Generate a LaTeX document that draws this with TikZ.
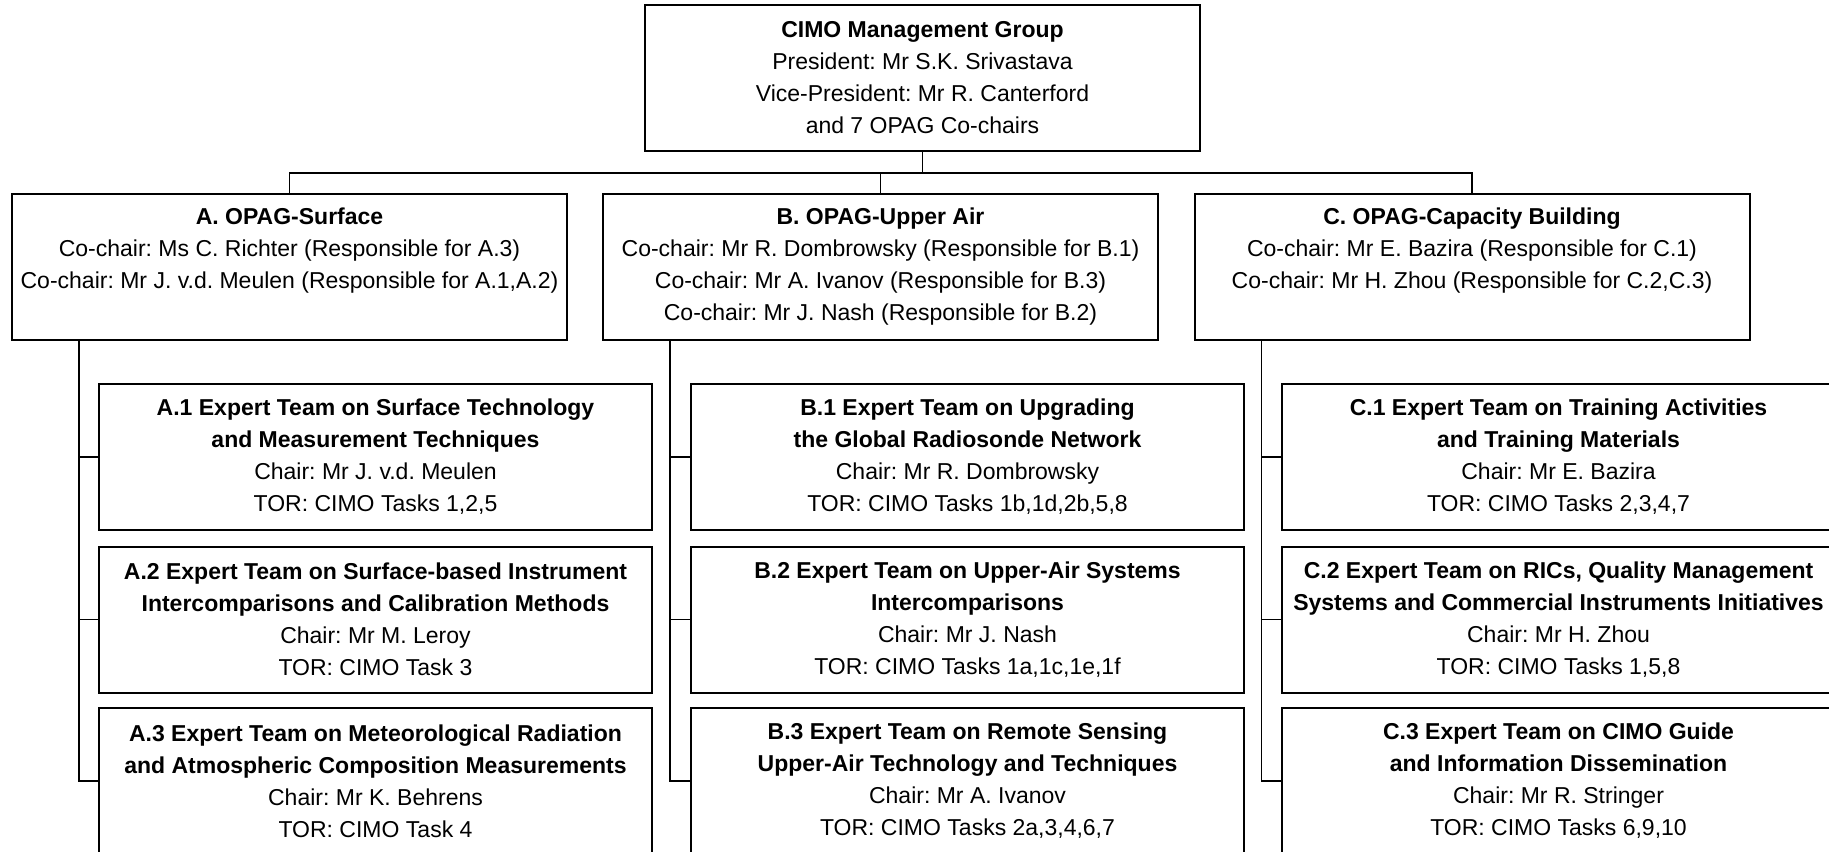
\documentclass[tikz,border=0pt]{standalone}
\usepackage{fontspec}
\setmainfont{Liberation Sans}
\frenchspacing
\usepackage{tikz}

\begin{document}
\begin{tikzpicture}[x=0.5pt,y=-0.5pt]
	\tikzstyle{group}=[rectangle,draw=black,line width=1pt,inner sep=0pt,minimum width=277.5pt,minimum height=73pt,align=center,font=\fontsize{11.5}{16}\selectfont]
	\tikzstyle{team}=[group,minimum width=276.5pt]
	\tikzstyle{link}=[draw=black,line width=0.8pt]
	\useasboundingbox (0,0) rectangle (1829,851);
	\clip (0,0) rectangle (1829,851);
	% management group and the three OPAGs
	\node[group] (mg) at (922.5,78) {\textbf{CIMO Management Group}\\President: Mr S.K. Srivastava\\Vice-President: Mr R. Canterford\\and 7 OPAG Co-chairs};
	\node[group] (A) at (289.5,267) {\textbf{A. OPAG-Surface}\\Co-chair: Ms C. Richter (Responsible for A.3)\\Co-chair: Mr J. v.d. Meulen (Responsible for A.1,A.2)\\\vphantom{(}};
	\node[group] (B) at (880.5,267) {\textbf{B. OPAG-Upper Air}\\Co-chair: Mr R. Dombrowsky (Responsible for B.1)\\Co-chair: Mr A. Ivanov (Responsible for B.3)\\Co-chair: Mr J. Nash (Responsible for B.2)};
	\node[group] (C) at (1472,267) {\textbf{C. OPAG-Capacity Building}\\Co-chair: Mr E. Bazira (Responsible for C.1)\\Co-chair: Mr H. Zhou (Responsible for C.2,C.3)\\\vphantom{(}};
	% expert teams
	\node[team] (A1) at (375.5,457) {\textbf{A.1 Expert Team on Surface Technology}\\\textbf{and Measurement Techniques}\\Chair: Mr J. v.d. Meulen\\TOR: CIMO Tasks 1,2,5};
	\node[team] (A2) at (375.5,619.5) {\textbf{A.2 Expert Team on Surface-based Instrument}\\\textbf{Intercomparisons and Calibration Methods}\\Chair: Mr M. Leroy\\TOR: CIMO Task 3};
	\node[team] (A3) at (375.5,781) {\textbf{A.3 Expert Team on Meteorological Radiation}\\\textbf{and Atmospheric Composition Measurements}\\Chair: Mr K. Behrens\\TOR: CIMO Task 4};
	\node[team] (B1) at (967.5,457) {\textbf{B.1 Expert Team on Upgrading}\\\textbf{the Global Radiosonde Network}\\Chair: Mr R. Dombrowsky\\TOR: CIMO Tasks 1b,1d,2b,5,8};
	\node[team] (B2) at (967.5,619.5) {\textbf{B.2 Expert Team on Upper-Air Systems}\\\textbf{Intercomparisons}\\Chair: Mr J. Nash\\TOR: CIMO Tasks 1a,1c,1e,1f};
	\node[team] (B3) at (967.5,781) {\textbf{B.3 Expert Team on Remote Sensing}\\\textbf{Upper-Air Technology and Techniques}\\Chair: Mr A. Ivanov\\TOR: CIMO Tasks 2a,3,4,6,7};
	\node[team] (C1) at (1558.5,457) {\textbf{C.1 Expert Team on Training Activities}\\\textbf{and Training Materials}\\Chair: Mr E. Bazira\\TOR: CIMO Tasks 2,3,4,7};
	\node[team] (C2) at (1558.5,619.5) {\textbf{C.2 Expert Team on RICs, Quality Management}\\\textbf{Systems and Commercial Instruments Initiatives}\\Chair: Mr H. Zhou\\TOR: CIMO Tasks 1,5,8};
	\node[team] (C3) at (1558.5,781) {\textbf{C.3 Expert Team on CIMO Guide}\\\textbf{and Information Dissemination}\\Chair: Mr R. Stringer\\TOR: CIMO Tasks 6,9,10};
	% connectors
	\coordinate (bar) at (0,173);
	\draw[link] (A.north) |- (bar -| C.north) -- (C.north);
	\draw[link] (B.north) -- (B.north |- bar);
	\draw[link] (mg.south) -- (mg.south |- bar);
	\foreach \g in {A,B,C}{
		\coordinate (\g-trunk) at ([xshift=34pt]\g.south west);
		\draw[link] (\g-trunk) |- (\g3.west);
		\draw[link] (\g1.west) -- (\g1.west -| \g-trunk);
		\draw[link] (\g2.west) -- (\g2.west -| \g-trunk);
	}
\end{tikzpicture}
\end{document}
